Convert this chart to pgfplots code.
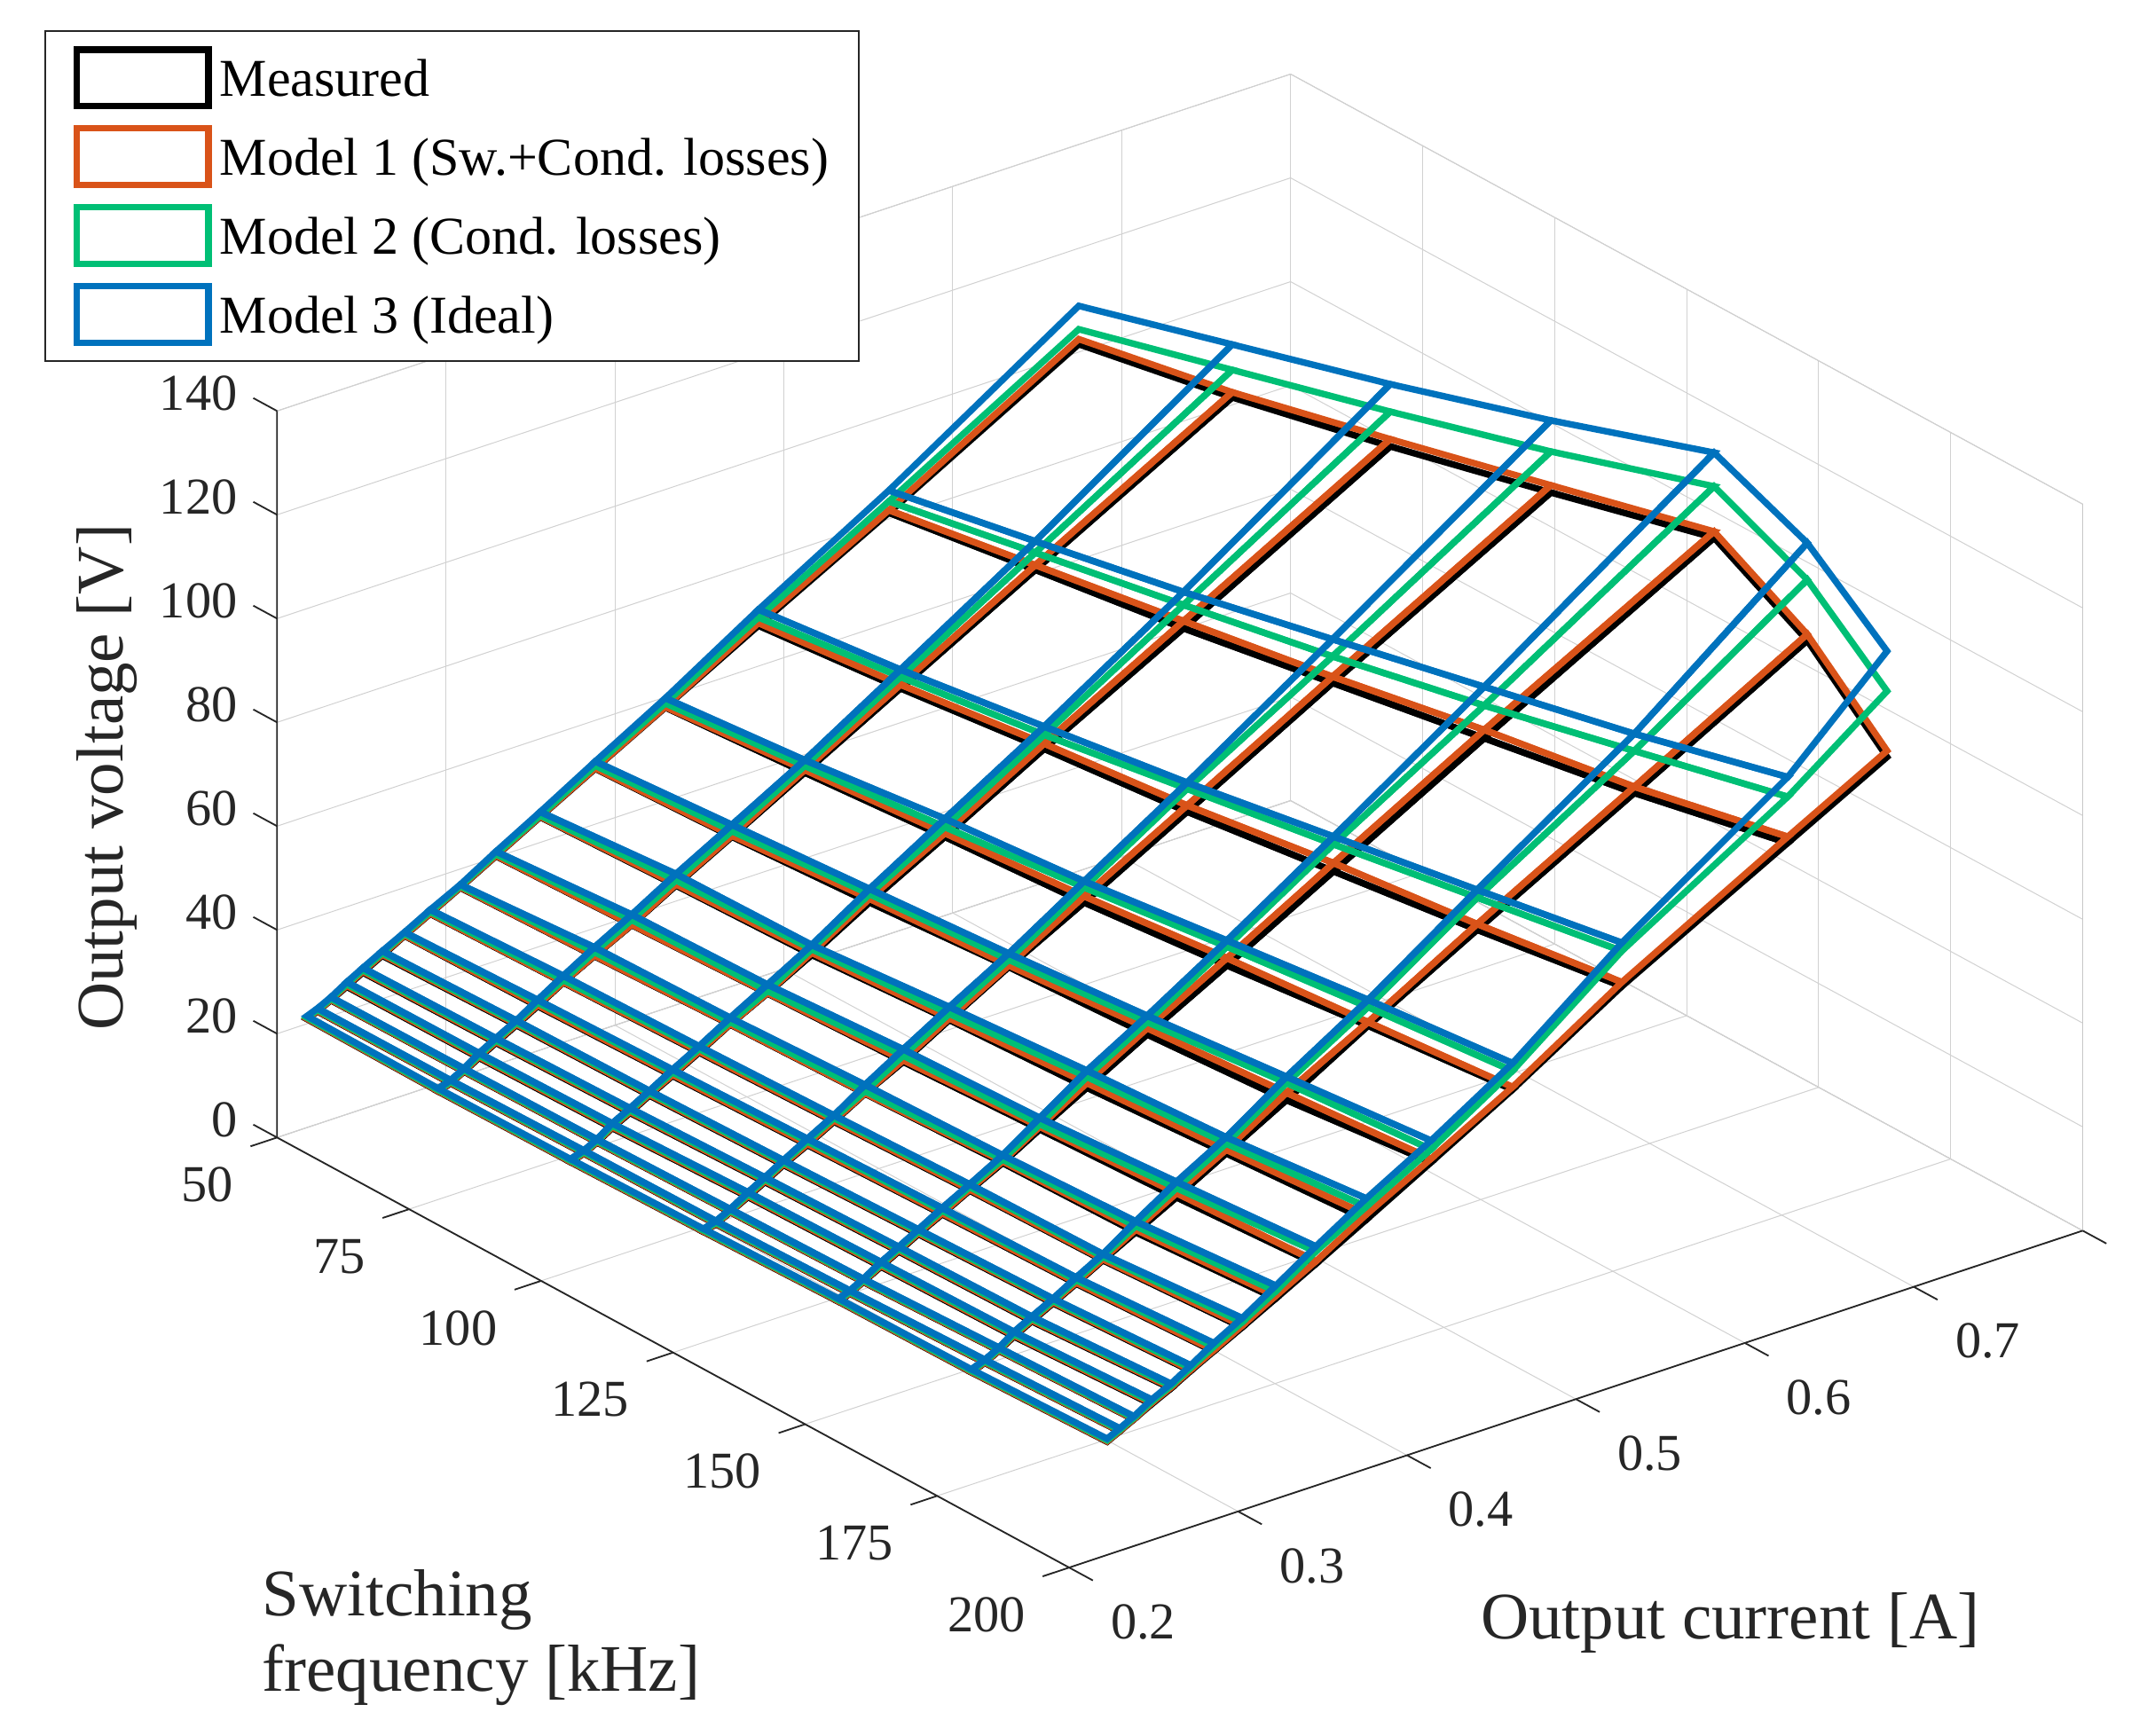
\documentclass[border=0pt]{standalone}
\usepackage{fontspec}
\setmainfont{Liberation Serif}
\usepackage{pgfplots}
\usepackage{pgfplotstable}
\pgfplotsset{compat=1.18}
\usetikzlibrary{calc}

\definecolor{mA}{rgb}{0,0,0}
\definecolor{mB}{HTML}{D95319}
\definecolor{mC}{HTML}{00BF75}
\definecolor{mD}{HTML}{0072BD}
\definecolor{axdark}{rgb}{0.15,0.15,0.15}

% I [A], f [kHz], output voltage [V]: measured, model 1, model 2, model 3
\pgfplotstableread{
I f Vm V1 V2 V3
.2177 50 20.9 21.0 21.2 21.5
.2173 75 20.8 20.9 21.1 21.4
.2174 100 21.0 21.1 21.3 21.6
.2180 125 21.3 21.4 21.6 21.9
.2197 150 21.5 21.6 21.8 22.1
.2203 175 21.6 21.7 21.9 22.2
.2225 200 21.8 21.9 22.1 22.4
.2240 50 21.7 21.8 22.0 22.3
.2246 75 21.6 21.7 21.9 22.2
.2253 100 21.8 21.9 22.1 22.4
.2254 125 22.0 22.1 22.3 22.6
.2265 150 22.3 22.4 22.6 22.9
.2282 175 22.6 22.7 22.9 23.2
.2299 200 23.0 23.1 23.3 23.6
.2319 50 23.0 23.1 23.3 23.6
.2325 75 23.0 23.1 23.3 23.6
.2331 100 23.1 23.2 23.4 23.7
.2338 125 23.4 23.5 23.7 24.0
.2344 150 23.7 23.8 24.0 24.3
.2366 175 24.0 24.1 24.3 24.6
.2383 200 24.4 24.5 24.7 25.0
.2413 50 24.6 24.8 25.1 25.5
.2414 75 24.7 24.9 25.2 25.6
.2421 100 24.9 25.1 25.4 25.8
.2443 125 25.2 25.4 25.7 26.1
.2449 150 25.5 25.7 26.0 26.4
.2455 175 25.8 26.0 26.3 26.7
.2488 200 26.2 26.4 26.7 27.1
.2508 50 26.3 26.5 26.8 27.2
.2514 75 26.5 26.7 27.0 27.4
.2526 100 26.7 26.9 27.2 27.6
.2543 125 27.0 27.2 27.5 27.9
.2554 150 27.3 27.5 27.8 28.2
.2560 175 27.6 27.8 28.1 28.5
.2603 200 28.0 28.2 28.5 28.9
.2623 50 28.3 28.5 28.8 29.2
.2635 75 28.6 28.8 29.1 29.5
.2641 100 28.8 29.0 29.3 29.7
.2653 125 29.1 29.3 29.6 30.0
.2670 150 29.4 29.6 29.9 30.3
.2686 175 29.7 29.9 30.2 30.6
.2719 200 30.1 30.3 30.7 31.2
.2755 50 30.7 30.8 31.1 31.4
.2761 75 30.9 31.1 31.6 32.1
.2778 100 31.1 31.3 31.8 32.3
.2795 125 31.4 31.6 32.1 32.6
.2811 150 31.7 31.9 32.4 32.9
.2823 175 32.0 32.2 32.7 33.2
.2856 200 32.4 32.6 33.3 34.0
.2907 50 33.3 33.4 33.7 34.1
.2913 75 33.8 33.9 34.3 35.1
.2935 100 33.9 34.1 34.6 35.1
.2952 125 34.2 34.4 34.9 35.4
.2974 150 34.5 34.7 35.2 35.7
.2981 175 34.8 35.0 35.5 36.0
.3024 200 35.2 35.5 36.2 37.0
.3085 50 36.4 36.5 36.7 37.0
.3097 75 36.9 37.0 37.7 38.6
.3119 100 37.3 37.4 37.8 38.6
.3136 125 37.6 37.7 38.1 39.3
.3169 150 37.7 38.0 38.4 39.2
.3175 175 38.1 38.6 39.3 40.2
.3223 200 38.6 39.1 40.0 41.1
.3296 50 40.2 40.3 40.6 41.1
.3318 75 40.5 40.6 41.5 42.5
.3340 100 40.9 41.0 41.4 42.6
.3362 125 41.3 41.6 42.5 43.7
.3389 150 41.8 42.3 42.8 44.0
.3417 175 42.2 43.0 44.0 45.2
.3460 200 42.7 43.2 45.1 46.1
.3558 50 44.9 45.0 45.2 45.9
.3580 75 45.3 45.5 46.3 47.5
.3602 100 45.5 45.9 46.6 47.4
.3635 125 46.4 46.7 47.6 48.9
.3668 150 46.8 47.7 48.9 50.1
.3711 175 47.5 48.2 49.4 50.6
.3759 200 48.0 49.0 50.5 52.1
.3884 50 50.7 50.8 51.3 52.1
.3911 75 51.1 51.3 52.2 53.4
.3944 100 51.9 52.6 53.5 54.5
.3987 125 52.8 53.1 54.2 55.4
.4025 150 53.2 54.4 55.6 56.8
.4068 175 53.9 55.3 57.2 58.4
.4142 200 54.9 55.6 57.4 59.1
.4299 50 58.0 58.1 58.8 59.8
.4342 75 58.8 59.3 60.1 61.2
.4390 100 59.7 60.4 61.6 63.2
.4433 125 60.4 61.6 63.3 64.5
.4497 150 61.4 62.8 65.0 66.2
.4551 175 63.0 63.7 66.6 68.0
.4625 200 63.7 64.2 67.3 68.8
.4850 50 67.8 68.3 69.4 70.9
.4909 75 68.9 69.6 71.1 72.5
.4978 100 70.3 71.3 73.0 74.6
.5043 125 71.3 72.5 75.7 76.9
.5128 150 72.7 74.3 77.9 79.4
.5197 175 74.5 75.6 80.7 82.2
.5272 200 76.6 77.4 83.4 85.0
.5622 50 81.2 81.7 83.4 85.5
.5707 75 83.1 84.0 86.4 88.6
.5803 100 84.6 86.0 89.1 91.6
.5904 125 86.8 88.0 91.9 95.2
.6020 150 88.7 90.3 95.0 98.6
.6127 175 90.8 92.0 98.9 102.2
.6254 200 93.6 94.8 102.5 106.3
.6746 50 101.5 102.5 104.4 108.9
.6873 75 103.7 104.7 109.0 113.9
.7027 100 106.4 107.8 113.1 118.4
.7196 125 109.5 110.9 117.4 123.4
.7381 150 112.6 113.8 122.5 129.0
.7151 175 109.1 110.3 120.8 127.9
.6842 200 103.8 105.0 116.5 124.2
}\meshdata

\pgfplotsset{
  swatch/.style={legend image code/.code={%
    \draw[line width=2.2pt,draw=#1,fill=white,sharp corners] (0pt,-8.85pt) rectangle (44.5pt,10.3pt);}},
  wire/.style={mesh,mesh/rows=16,mesh/cols=7,line width=2.2pt,forget plot,
    colormap={w#1}{color=(#1) color=(#1)}},
}
\newcommand{\lgap}{\hspace*{2.7pt}}

\begin{document}
\begin{tikzpicture}
\begin{axis}[
  x={(571.2pt,189.9pt)},
  y={(-1.7856pt,0.9696pt)},
  y dir=reverse,
  z={(0pt,1.755pt)},
  xmin=0.2, xmax=0.8, ymin=50, ymax=200, zmin=0, zmax=140,
  xtick={0.2,0.3,0.4,0.5,0.6,0.7,0.8},
  xticklabels={0.2,0.3,0.4,0.5,0.6,0.7,},
  ytick={50,75,100,125,150,175,200},
  ztick={0,20,40,60,80,100,120,140},
  /pgf/number format/assume math mode=true,
  grid=major,
  grid style={black!18,line width=0.3pt},
  axis line style={black!22,line width=0.3pt},
  tick align=outside,
  major tick length=9pt,
  major tick style={draw=none},
  tick label style={font=\fontsize{17.5}{20}\selectfont,text=axdark},
  xticklabel style={anchor=center,xshift=17.1pt,yshift=-14.1pt},
  yticklabel style={anchor=east,xshift=-2.8pt,yshift=-13.1pt},
  zticklabel style={anchor=east,xshift=-2pt,yshift=1.6pt},
  xlabel={Output current [A]},
  ylabel={Switching\\frequency [kHz]},
  zlabel={Output voltage [V]},
  label style={font=\fontsize{22.5}{25.6}\selectfont,text=axdark},
  xlabel style={at={(axis cs:0.2,50,0)},anchor=center,rotate=0,xshift=491.4pt,yshift=-164.1pt},
  ylabel style={at={(axis cs:0.2,50,0)},anchor=west,align=left,rotate=0,xshift=-8.5pt,yshift=-169.1pt},
  zlabel style={at={(axis cs:0.2,50,0)},anchor=center,rotate=0,xshift=121.8pt,yshift=57.6pt},
  clip=false,
  legend cell align=left,
  legend style={
    at={(axis cs:0.2,50,0)},anchor=north west,xshift=-78.69pt,yshift=374.49pt,
    draw=axdark,line width=0.6pt,fill=white,
    inner xsep=9.6pt,inner ysep=5.2pt,row sep=5.3pt,
    font=\fontsize{18}{20}\selectfont,
    nodes={inner sep=0pt},
  },
]
\addlegendimage{swatch=mA}\addlegendentry{\lgap Measured}
\addlegendimage{swatch=mB}\addlegendentry{\lgap Model 1 (Sw.+Cond. losses)\rule{0.4pt}{0pt}}
\addlegendimage{swatch=mC}\addlegendentry{\lgap Model 2 (Cond. losses)}
\addlegendimage{swatch=mD}\addlegendentry{\lgap Model 3 (Ideal)}

% dark axis lines and ticks; the box itself stays light
\draw[axdark,line width=0.55pt] (axis cs:0.2,50,140) -- (axis cs:0.2,50,0) -- (axis cs:0.2,200,0) -- (axis cs:0.8,200,0);
\pgfplotsinvokeforeach{0,20,40,60,80,100,120,140}{
  \draw[axdark,line width=0.55pt] (axis cs:0.2,50,#1) -- (axis cs:0.2,45.5,#1);}
\pgfplotsinvokeforeach{50,75,100,125,150,175,200}{
  \draw[axdark,line width=0.55pt] (axis cs:0.2,#1,0) -- (axis cs:0.1843,#1,0);}
\pgfplotsinvokeforeach{0.2,0.3,0.4,0.5,0.6,0.7,0.8}{
  \draw[axdark,line width=0.55pt] (axis cs:#1,200,0) -- (axis cs:#1,204.5,0);}

\addplot3[wire=mA] table[x=I,y=f,z=Vm] {\meshdata};
\addplot3[wire=mB] table[x=I,y=f,z=V1] {\meshdata};
\addplot3[wire=mC] table[x=I,y=f,z=V2] {\meshdata};
\addplot3[wire=mD] table[x=I,y=f,z=V3] {\meshdata};

\coordinate (P) at (axis cs:0.2,50,0);
\end{axis}
\pgfresetboundingbox
\useasboundingbox ($(P)+(-93.69pt,-202.11pt)$) rectangle ($(P)+(632.31pt,384.69pt)$);
\end{tikzpicture}
\end{document}
